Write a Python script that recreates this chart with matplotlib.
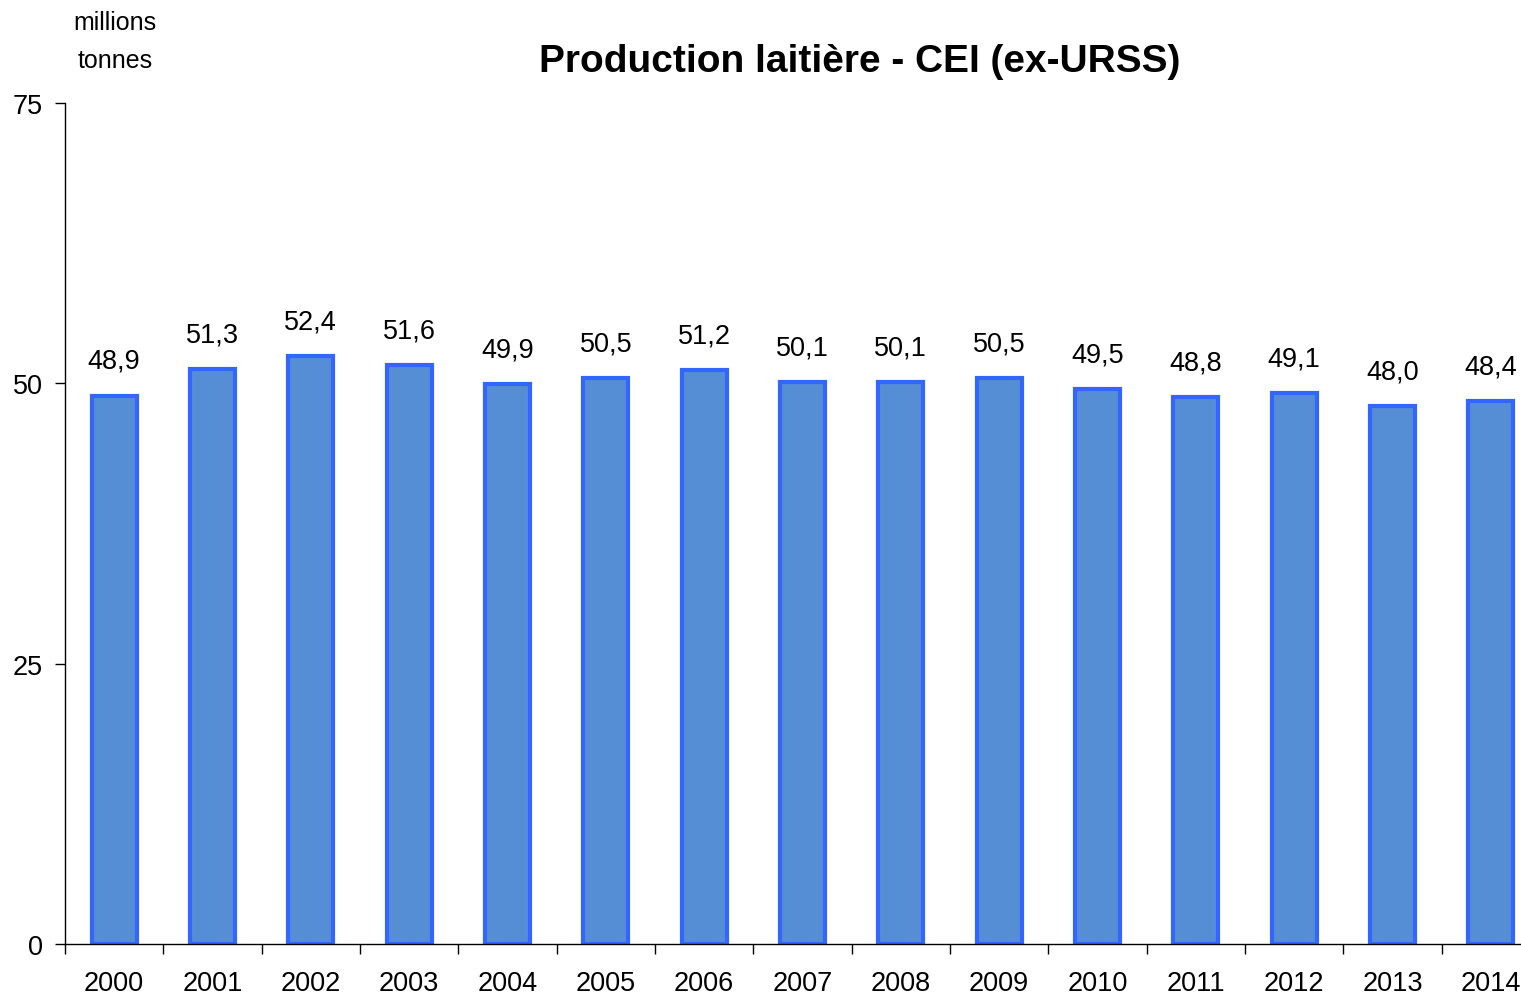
import numpy as np
import matplotlib
matplotlib.use("Agg")
import matplotlib.pyplot as plt

years = ["2000", "2001", "2002", "2003", "2004", "2005", "2006", "2007",
         "2008", "2009", "2010", "2011", "2012", "2013", "2014"]
production = [48.9, 51.3, 52.4, 51.6, 49.9, 50.5, 51.2, 50.1,
              50.1, 50.5, 49.5, 48.8, 49.1, 48.0, 48.4]
yticks = [0, 25, 50, 75]

plt.rcParams['font.family'] = ['Liberation Sans', 'DejaVu Sans']

fig = plt.figure(figsize=(15.21, 9.95), dpi=100)
ax = fig.add_axes([65 / 1521, 1 - 945 / 995, 1475 / 1521, 841 / 995])

x = np.arange(len(years))
ax.bar(x, production, width=0.46, color="#558ED5", edgecolor="#3366FF",
       linewidth=3, zorder=2)

for xi, v in zip(x, production):
    ax.annotate(f"{v:.1f}".replace(".", ","), (xi, v), xytext=(0, 25),
                textcoords="offset points", ha="center", va="center",
                fontsize=19.5)

ax.set_xlim(-0.5, len(years) - 0.5)
ax.set_ylim(0, 75)
ax.set_yticks(yticks)
ax.set_yticklabels([str(t) for t in yticks], fontsize=19.5)
ax.set_xticks(x)
ax.set_xticklabels(years, fontsize=19.5)
ax.tick_params(axis="x", length=0, pad=19)
ax.set_xticks(np.arange(len(years) + 1) - 0.5, minor=True)
ax.tick_params(axis="x", which="minor", length=7, width=1, direction="out")
ax.tick_params(axis="y", length=7, width=1, direction="out", pad=9)
for s in ["top", "right"]:
    ax.spines[s].set_visible(False)
ax.spines["left"].set_linewidth(1)
ax.spines["bottom"].set_linewidth(1)

fig.text(860 / 1521, 1 - 62 / 995, "Production laitière - CEI (ex-URSS)",
         ha="center", va="center", fontsize=28, fontweight="bold")
fig.text(115 / 1521, 1 - 42 / 995, "millions\ntonnes", ha="center",
         va="center", fontsize=18, linespacing=1.75)

fig.savefig("out.png", dpi=100)
